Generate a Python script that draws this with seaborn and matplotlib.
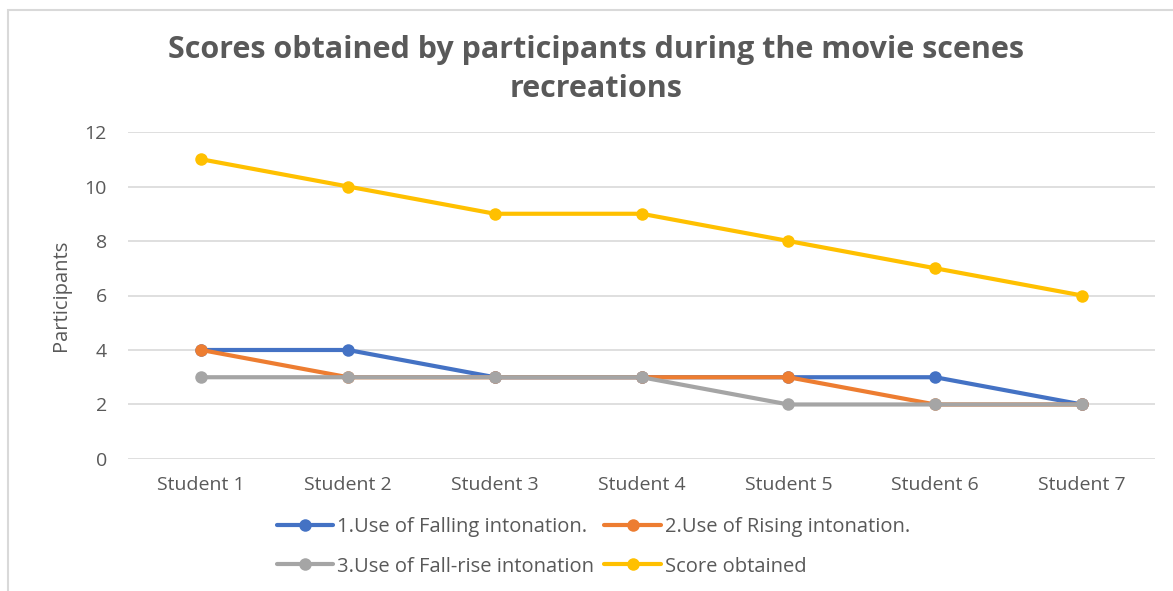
import matplotlib
matplotlib.use("Agg")
import matplotlib.pyplot as plt
import seaborn as sns
import pandas as pd
from matplotlib.patches import Rectangle

students = ["Student 1", "Student 2", "Student 3", "Student 4", "Student 5", "Student 6", "Student 7"]
falling = [4, 4, 3, 3, 3, 3, 2]
rising = [4, 3, 3, 3, 3, 2, 2]
fall_rise = [3, 3, 3, 3, 2, 2, 2]
score = [11, 10, 9, 9, 8, 7, 6]
series_names = ["1.Use of Falling intonation.", "2.Use of Rising intonation.",
                "3.Use of Fall-rise intonation", "Score obtained"]
colors = ["#4472C4", "#ED7D31", "#A5A5A5", "#FFC000"]

sns.set_theme(style="white")
plt.rcParams['font.family'] = ['Open Sans', 'DejaVu Sans']
txt = "#595959"

rows = []
for name, vals in zip(series_names, [falling, rising, fall_rise, score]):
    for s, v in zip(students, vals):
        rows.append({"Student": s, "value": v, "series": name})
df = pd.DataFrame(rows)

fig = plt.figure(figsize=(11.73, 5.91), dpi=100)
ax = fig.add_axes([0.109, 0.2234, 0.876, 0.5532])

sns.lineplot(data=df, x="Student", y="value", hue="series", hue_order=series_names,
             palette=colors, marker="o", markersize=9, linewidth=3,
             markeredgewidth=0, ax=ax, legend=False, sort=False)

ax.set_xlim(-0.5, 6.5)
ax.set_ylim(0, 12)
ax.set_yticks(range(0, 13, 2))
ax.grid(axis="y", color="#D9D9D9", linewidth=1.2)
ax.grid(axis="x", visible=False)
ax.set_axisbelow(True)
for sp in ax.spines.values():
    sp.set_visible(False)
ax.tick_params(axis="both", length=0, labelsize=14, colors=txt)
ax.tick_params(axis="x", pad=12)
ax.tick_params(axis="y", pad=15)
ax.set_xlabel("")
ax.set_ylabel("Participants", fontsize=14.5, color=txt, labelpad=10)

fig.text(0.508, 0.882, "Scores obtained by participants during the movie scenes\nrecreations",
         ha="center", va="center", fontsize=22, fontweight="bold", color=txt, linespacing=1.38)

handles = ax.get_lines()[:4]
order = [0, 2, 1, 3]
leg = fig.legend([handles[i] for i in order], [series_names[i] for i in order],
                 ncol=2, loc="center", bbox_to_anchor=(0.506, 0.0745), frameon=False,
                 fontsize=14.5, labelcolor=txt, handlelength=2.8, handletextpad=0.2,
                 columnspacing=0.5, labelspacing=0.95)

fig.patches.append(Rectangle((0.007, -0.01), 1.0, 0.993, transform=fig.transFigure,
                             fill=False, edgecolor="#D9D9D9", linewidth=1.5))

fig.savefig("out.png", dpi=100)
